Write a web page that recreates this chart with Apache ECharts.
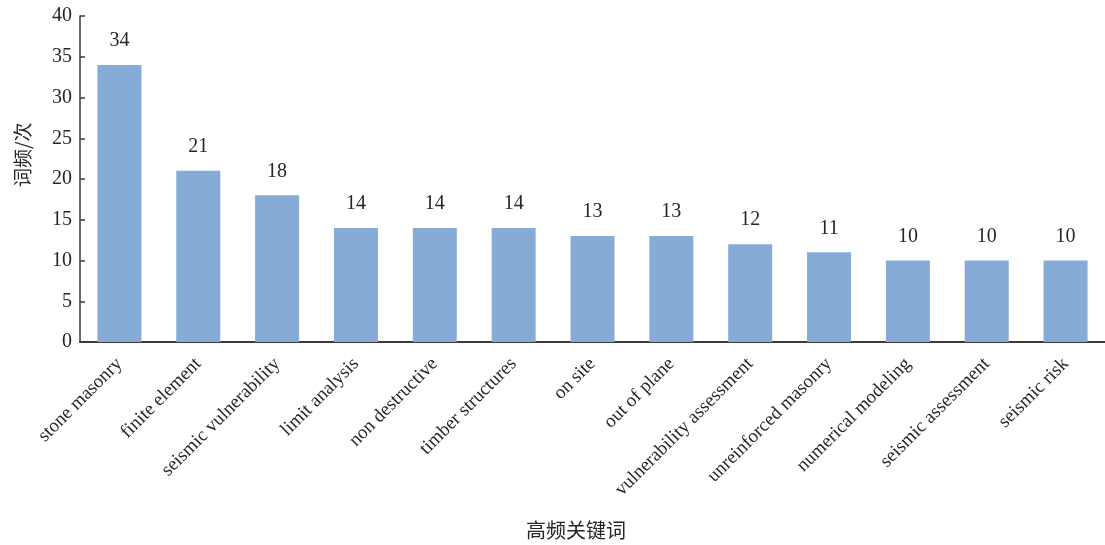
<!DOCTYPE html>
<html>
<head>
<meta charset="utf-8">
<script src="https://cdn.jsdelivr.net/npm/echarts@6/dist/echarts.min.js"></script>
<style>
  html, body { margin: 0; padding: 0; background: #ffffff; }
  #chart { width: 1105px; height: 545px; }
</style>
</head>
<body>
<div id="chart"></div>
<script>
// High-frequency keywords and their occurrence counts
const keywords = [
  'stone masonry', 'finite element', 'seismic vulnerability', 'limit analysis',
  'non destructive', 'timber structures', 'on site', 'out of plane',
  'vulnerability assessment', 'unreinforced masonry', 'numerical modeling',
  'seismic assessment', 'seismic risk'
];
const counts = [34, 21, 18, 14, 14, 14, 13, 13, 12, 11, 10, 10, 10];
const yTicks = { min: 0, max: 40, step: 5 };
const xTitle = '高频关键词';
const yTitle = '词频/次';

const serif = '"Liberation Serif", "DejaVu Serif", serif';
const cjk = '"Noto Sans CJK SC", sans-serif';
const ink = '#262626';

const chart = echarts.init(document.getElementById('chart'), null, { renderer: 'canvas' });
chart.setOption({
  backgroundColor: '#ffffff',
  animation: false,
  grid: { left: 80, right: -6, top: 16, bottom: 203, containLabel: false },
  xAxis: {
    type: 'category',
    data: keywords,
    axisLine: { show: true, lineStyle: { color: '#3a3a3a', width: 2 } },
    axisTick: { show: false },
    axisLabel: {
      rotate: 45, interval: 0, margin: 19,
      color: ink, fontFamily: serif, fontSize: 19
    }
  },
  yAxis: {
    type: 'value',
    min: yTicks.min, max: yTicks.max, interval: yTicks.step,
    splitLine: { show: false },
    axisLine: { show: true, lineStyle: { color: '#3a3a3a', width: 1.5 } },
    axisTick: { show: true, inside: true, length: 5, lineStyle: { color: '#3a3a3a', width: 1.5 } },
    axisLabel: { color: ink, fontFamily: serif, fontSize: 20, margin: 8 }
  },
  series: [{
    type: 'bar',
    data: counts,
    barWidth: 44,
    itemStyle: { color: '#85abd6' },
    label: {
      show: true, position: 'top', distance: 14,
      color: ink, fontFamily: serif, fontSize: 20
    }
  }],
  graphic: [
    {
      type: 'text', left: 526, top: 520,
      style: { text: xTitle, fill: ink, font: '20px ' + cjk }
    },
    {
      type: 'text', x: 13, y: 187, rotation: Math.PI / 2,
      style: { text: yTitle, fill: ink, font: '19px ' + cjk }
    }
  ]
});
</script>
</body>
</html>
